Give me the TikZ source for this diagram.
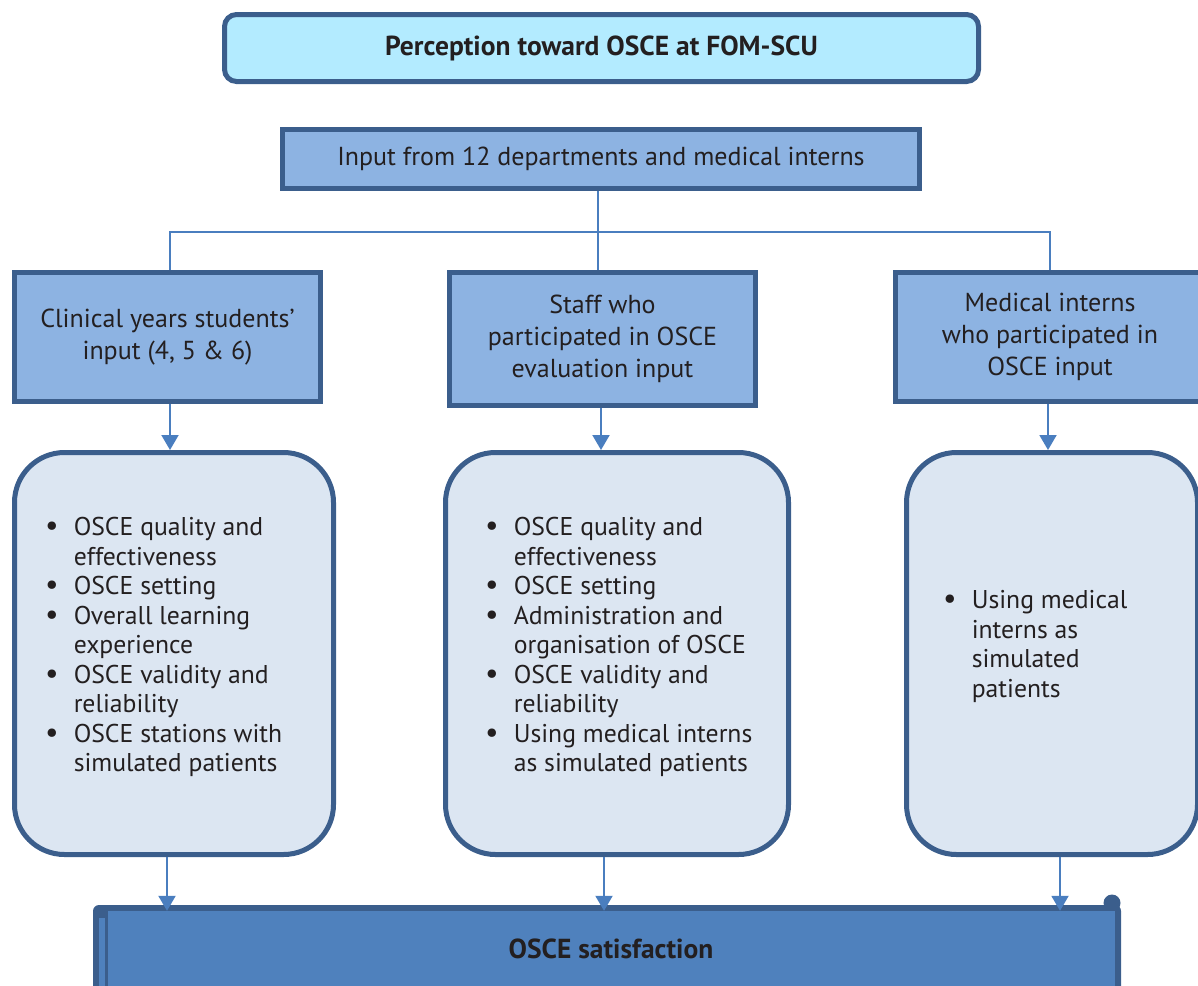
\documentclass[tikz,border=0pt]{standalone}
\usepackage{fontspec}
\setmainfont{PT Sans}
\usepackage{tikz}
\usetikzlibrary{arrows.meta}
\definecolor{edgeblue}{RGB}{59,94,140}
\definecolor{titlefill}{RGB}{179,235,255}
\definecolor{catfill}{RGB}{141,179,226}
\definecolor{listfill}{RGB}{220,230,242}
\definecolor{bandfill}{RGB}{79,129,189}
\definecolor{linkblue}{RGB}{74,126,191}
\definecolor{ink}{RGB}{35,31,32}
\tikzstyle{titlebox} = [draw=edgeblue, line width=5pt, fill=titlefill, rounded corners=12pt, text=ink, font={\fontsize{27.5}{30}\selectfont\bfseries}]
\tikzstyle{catbox} = [draw=edgeblue, line width=5pt, fill=catfill, text=ink, align=center, font={\fontsize{26}{32}\selectfont}]
\tikzstyle{listbox} = [draw=edgeblue, line width=5pt, fill=listfill, rounded corners=50pt]
\tikzstyle{listtext} = [anchor=west, inner sep=0pt, text=ink, font={\fontsize{25.7}{29.5}\selectfont}]
\tikzstyle{link} = [draw=linkblue, line width=2pt]
\tikzstyle{flow} = [link, -{Triangle[width=17pt,length=15pt]}]
\newcommand{\bul}{{\fontsize{30}{30}\selectfont\textbullet}}

\begin{document}
\begin{tikzpicture}[x=1pt,y=-1pt]
    \useasboundingbox (0,0) rectangle (1198,985);
    \clip (0,0) rectangle (1198,985);
    % top boxes
    \node[titlebox, minimum width=754pt, minimum height=67pt](title) at (601.5,48){Perception toward OSCE at FOM-SCU};
    \node[catbox, minimum width=637pt, minimum height=59pt](input) at (601,159){Input from 12 departments and medical interns};
    % three groups
    \node[catbox, minimum width=306pt, minimum height=129pt](stud) at (167.5,337){Clinical years students'\\input (4, 5 \& 6)};
    \node[catbox, minimum width=306pt, minimum height=133pt](staff) at (602.5,339){Staff who\\participated in OSCE\\evaluation input};
    \node[catbox, minimum width=310pt, minimum height=129pt](intern) at (1050,337){Medical interns\\who participated in\\OSCE input};
    \coordinate (split) at (598,232);
    \draw[link](input.south -| split)--(split);
    \draw[link](stud.north -| 170,0) |- (split) -| (intern.north -| 1050,0);
    \draw[link](split)--(staff.north -| split);
    % lists
    \node[listbox, minimum width=319pt, minimum height=402pt](studlist) at (174,653.5){};
    \node[listbox, minimum width=343pt, minimum height=402pt](stafflist) at (617,653.5){};
    \node[listbox, minimum width=291pt, minimum height=402pt](internlist) at (1052,653.5){};
    \node[listtext](studitems) at (45,648){\begin{tabular}{@{}l@{\hspace{15pt}}l@{}}
      \bul & OSCE quality and\\ & effectiveness\\
      \bul & OSCE setting\\
      \bul & Overall learning\\ & experience\\
      \bul & OSCE validity and\\ & reliability\\
      \bul & OSCE stations with\\ & simulated patients\end{tabular}};
    \node[listtext](staffitems) at (485,648){\begin{tabular}{@{}l@{\hspace{15pt}}l@{}}
      \bul & OSCE quality and\\ & effectiveness\\
      \bul & OSCE setting\\
      \bul & Administration and\\ & organisation of OSCE\\
      \bul & OSCE validity and\\ & reliability\\
      \bul & Using medical interns\\ & as simulated patients\end{tabular}};
    \node[listtext](internitems) at (943,647){\begin{tabular}{@{}l@{\hspace{15pt}}l@{}}
      \bul & Using medical\\ & interns as\\ & simulated\\ & patients\end{tabular}};
    \draw[flow](stud.south -| 170,0)--(studlist.north -| 170,0);
    \draw[flow](staff.south -| 601,0)--(stafflist.north -| 601,0);
    \draw[flow](intern.south -| 1048,0)--(internlist.north -| 1048,0);
    % satisfaction scroll
    \fill[edgeblue, rounded corners=6pt](93,905) rectangle (1121,995);
    \fill[edgeblue](1112,903) circle (8.5pt);
    \fill[bandfill](99,918) rectangle (105,995);
    \node[fill=bandfill, minimum width=1007pt, minimum height=76pt, inner sep=0pt, text=ink, font={\fontsize{27.5}{30}\selectfont\bfseries}](satis) at (611,949){OSCE satisfaction};
    \draw[flow](studlist.south -| 167,0)--(satis.north -| 167,0);
    \draw[flow](stafflist.south -| 604,0)--(satis.north -| 604,0);
    \draw[flow](internlist.south -| 1060,0)--(satis.north -| 1060,0);
\end{tikzpicture}
\end{document}
